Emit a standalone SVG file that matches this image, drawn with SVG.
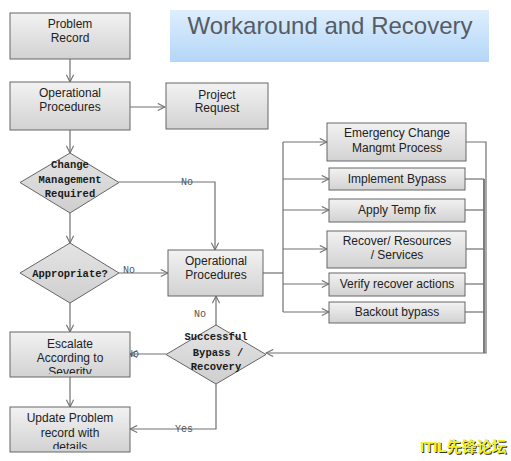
<svg xmlns="http://www.w3.org/2000/svg" width="511" height="461" viewBox="0 0 511 461">
<style>
.box{fill:url(#gbox);stroke:#666;stroke-width:1}
.dia{fill:url(#gdia);stroke:#666;stroke-width:1}
.t{font-family:"Liberation Sans",Arial,sans-serif;font-size:12px;fill:#222;text-anchor:middle}
.d{font-family:"Liberation Mono","Courier New",monospace;font-size:10.5px;font-weight:bold;fill:#1a1a1a;text-anchor:middle}
.lbl{font-family:"Liberation Mono","Courier New",monospace;font-size:10px;fill:#555}
.c{fill:none;stroke:#707070;stroke-width:1.2}
</style>
<defs>
<linearGradient id="gbox" x1="0" y1="0" x2="0" y2="1"><stop offset="0" stop-color="#f2f2f2"/><stop offset="1" stop-color="#d2d2d2"/></linearGradient>
<linearGradient id="gdia" x1="0" y1="0" x2="0" y2="1"><stop offset="0" stop-color="#e4e4e4"/><stop offset="1" stop-color="#cfcfcf"/></linearGradient>
<linearGradient id="gtitle" x1="0" y1="0" x2="0" y2="1"><stop offset="0" stop-color="#dfeefd"/><stop offset="1" stop-color="#b3d6f8"/></linearGradient>
<marker id="ar" viewBox="0 0 10 10" refX="9" refY="5" markerWidth="9" markerHeight="9" markerUnits="userSpaceOnUse" orient="auto"><path d="M1,1 L9,5 L1,9" fill="none" stroke="#707070" stroke-width="1.2"/></marker>
<clipPath id="cEsc"><rect x="10" y="332" width="120" height="42"/></clipPath>
<clipPath id="cUpd"><rect x="10" y="407" width="120" height="42"/></clipPath>
</defs>
<g id="title"><rect x="170" y="10" width="319" height="52" fill="url(#gtitle)"/><text x="330" y="34" style="font-family:'Liberation Sans',Arial,sans-serif;font-size:24px;fill:#555c64;text-anchor:middle">Workaround and Recovery</text></g>
<g id="connectors">
<path class="c" d="M70,59 V82" marker-end="url(#ar)"/>
<path class="c" d="M130,107 H165" marker-end="url(#ar)"/>
<path class="c" d="M70,130 V153" marker-end="url(#ar)"/>
<path class="c" d="M119,182 H215 V250" marker-end="url(#ar)"/>
<path class="c" d="M70,213 V243" marker-end="url(#ar)"/>
<path class="c" d="M119,273 H168" marker-end="url(#ar)"/>
<path class="c" d="M70,303 V332" marker-end="url(#ar)"/>
<path class="c" d="M263,273 H283"/>
<path class="c" d="M283,142 V312"/>
<path class="c" d="M283,142 H327" marker-end="url(#ar)"/>
<path class="c" d="M283,179 H329" marker-end="url(#ar)"/>
<path class="c" d="M283,210 H329" marker-end="url(#ar)"/>
<path class="c" d="M283,249 H327" marker-end="url(#ar)"/>
<path class="c" d="M283,284 H329" marker-end="url(#ar)"/>
<path class="c" d="M283,312 H329" marker-end="url(#ar)"/>
<path class="c" d="M466,142 H486 V353 H266" marker-end="url(#ar)"/>
<path class="c" d="M465,179 H484"/>
<path class="c" d="M465,210 H484"/>
<path class="c" d="M466,249 H484"/>
<path class="c" d="M465,284 H484"/>
<path class="c" d="M465,312 H484"/>
<path class="c" style="stroke-width:1.8" d="M484,179 V353"/>
<path class="c" d="M216,325 V296" marker-end="url(#ar)"/>
<path class="c" d="M166,354 H130" marker-end="url(#ar)"/>
<path class="c" d="M70,377 V407" marker-end="url(#ar)"/>
<path class="c" d="M216,384 V429 H130" marker-end="url(#ar)"/>
<text class="lbl" x="181" y="185">No</text>
<text class="lbl" x="123" y="273">No</text>
<text class="lbl" x="194" y="317">No</text>
<text class="lbl" x="127" y="357">No</text>
<text class="lbl" x="175" y="432">Yes</text>
</g>
<g id="problem-record"><rect class="box" x="10" y="13" width="120" height="46"/><text class="t" x="70" y="28">Problem</text><text class="t" x="70" y="42">Record</text></g>
<g id="op-proc-1"><rect class="box" x="10" y="82" width="120" height="48"/><text class="t" x="70" y="97">Operational</text><text class="t" x="70" y="111">Procedures</text></g>
<g id="project-request"><rect class="box" x="166" y="83" width="102" height="46"/><text class="t" x="217" y="99">Project</text><text class="t" x="217" y="112">Request</text></g>
<g id="change-mgmt"><polygon class="dia" points="70,153 119,182.5 70,213 20,182.5"/><text class="d" x="70" y="168">Change</text><text class="d" x="70" y="183">Management</text><text class="d" x="70" y="197">Required</text></g>
<g id="appropriate"><polygon class="dia" points="70,243 119,273 70,303 20,273"/><text class="d" x="70" y="277">Appropriate?</text></g>
<g id="op-proc-2"><rect class="box" x="168" y="250" width="95" height="46"/><text class="t" x="216" y="265">Operational</text><text class="t" x="216" y="279">Procedures</text></g>
<g id="emergency"><rect class="box" x="327" y="123" width="139" height="38"/><text class="t" x="397" y="137">Emergency Change</text><text class="t" x="397" y="152">Mangmt Process</text></g>
<g id="implement"><rect class="box" x="329" y="168" width="136" height="22"/><text class="t" x="397" y="183">Implement Bypass</text></g>
<g id="temp-fix"><rect class="box" x="329" y="199" width="136" height="23"/><text class="t" x="397" y="214">Apply Temp fix</text></g>
<g id="recover"><rect class="box" x="327" y="231" width="139" height="37"/><text class="t" x="397" y="245">Recover/ Resources</text><text class="t" x="397" y="259"> /  Services</text></g>
<g id="verify"><rect class="box" x="329" y="273" width="136" height="23"/><text class="t" x="397" y="288">Verify recover actions</text></g>
<g id="backout"><rect class="box" x="329" y="302" width="136" height="21"/><text class="t" x="397" y="316">Backout bypass</text></g>
<g id="successful"><polygon class="dia" points="216,325 266,354.5 216,384 166,354.5"/><text class="d" x="216" y="340">Successful</text><text class="d" x="218" y="356">Bypass /</text><text class="d" x="216" y="370">Recovery</text></g>
<g id="escalate"><rect class="box" x="10" y="332" width="120" height="45"/><g clip-path="url(#cEsc)"><text class="t" x="70" y="348">Escalate</text><text class="t" x="70" y="362">According to</text><text class="t" x="70" y="376">Severity</text></g></g>
<g id="update"><rect class="box" x="10" y="407" width="120" height="45"/><g clip-path="url(#cUpd)"><text class="t" x="70" y="422">Update Problem</text><text class="t" x="70" y="437">record with</text><text class="t" x="70" y="451">details</text></g></g>
<g id="watermark" style="font-family:'Liberation Sans','Noto Sans CJK SC',sans-serif;font-size:15px;font-weight:bold"><text x="421" y="453" fill="#333">ITIL先锋论坛</text><text x="420" y="452" fill="#f4f020">ITIL先锋论坛</text></g>
</svg>
